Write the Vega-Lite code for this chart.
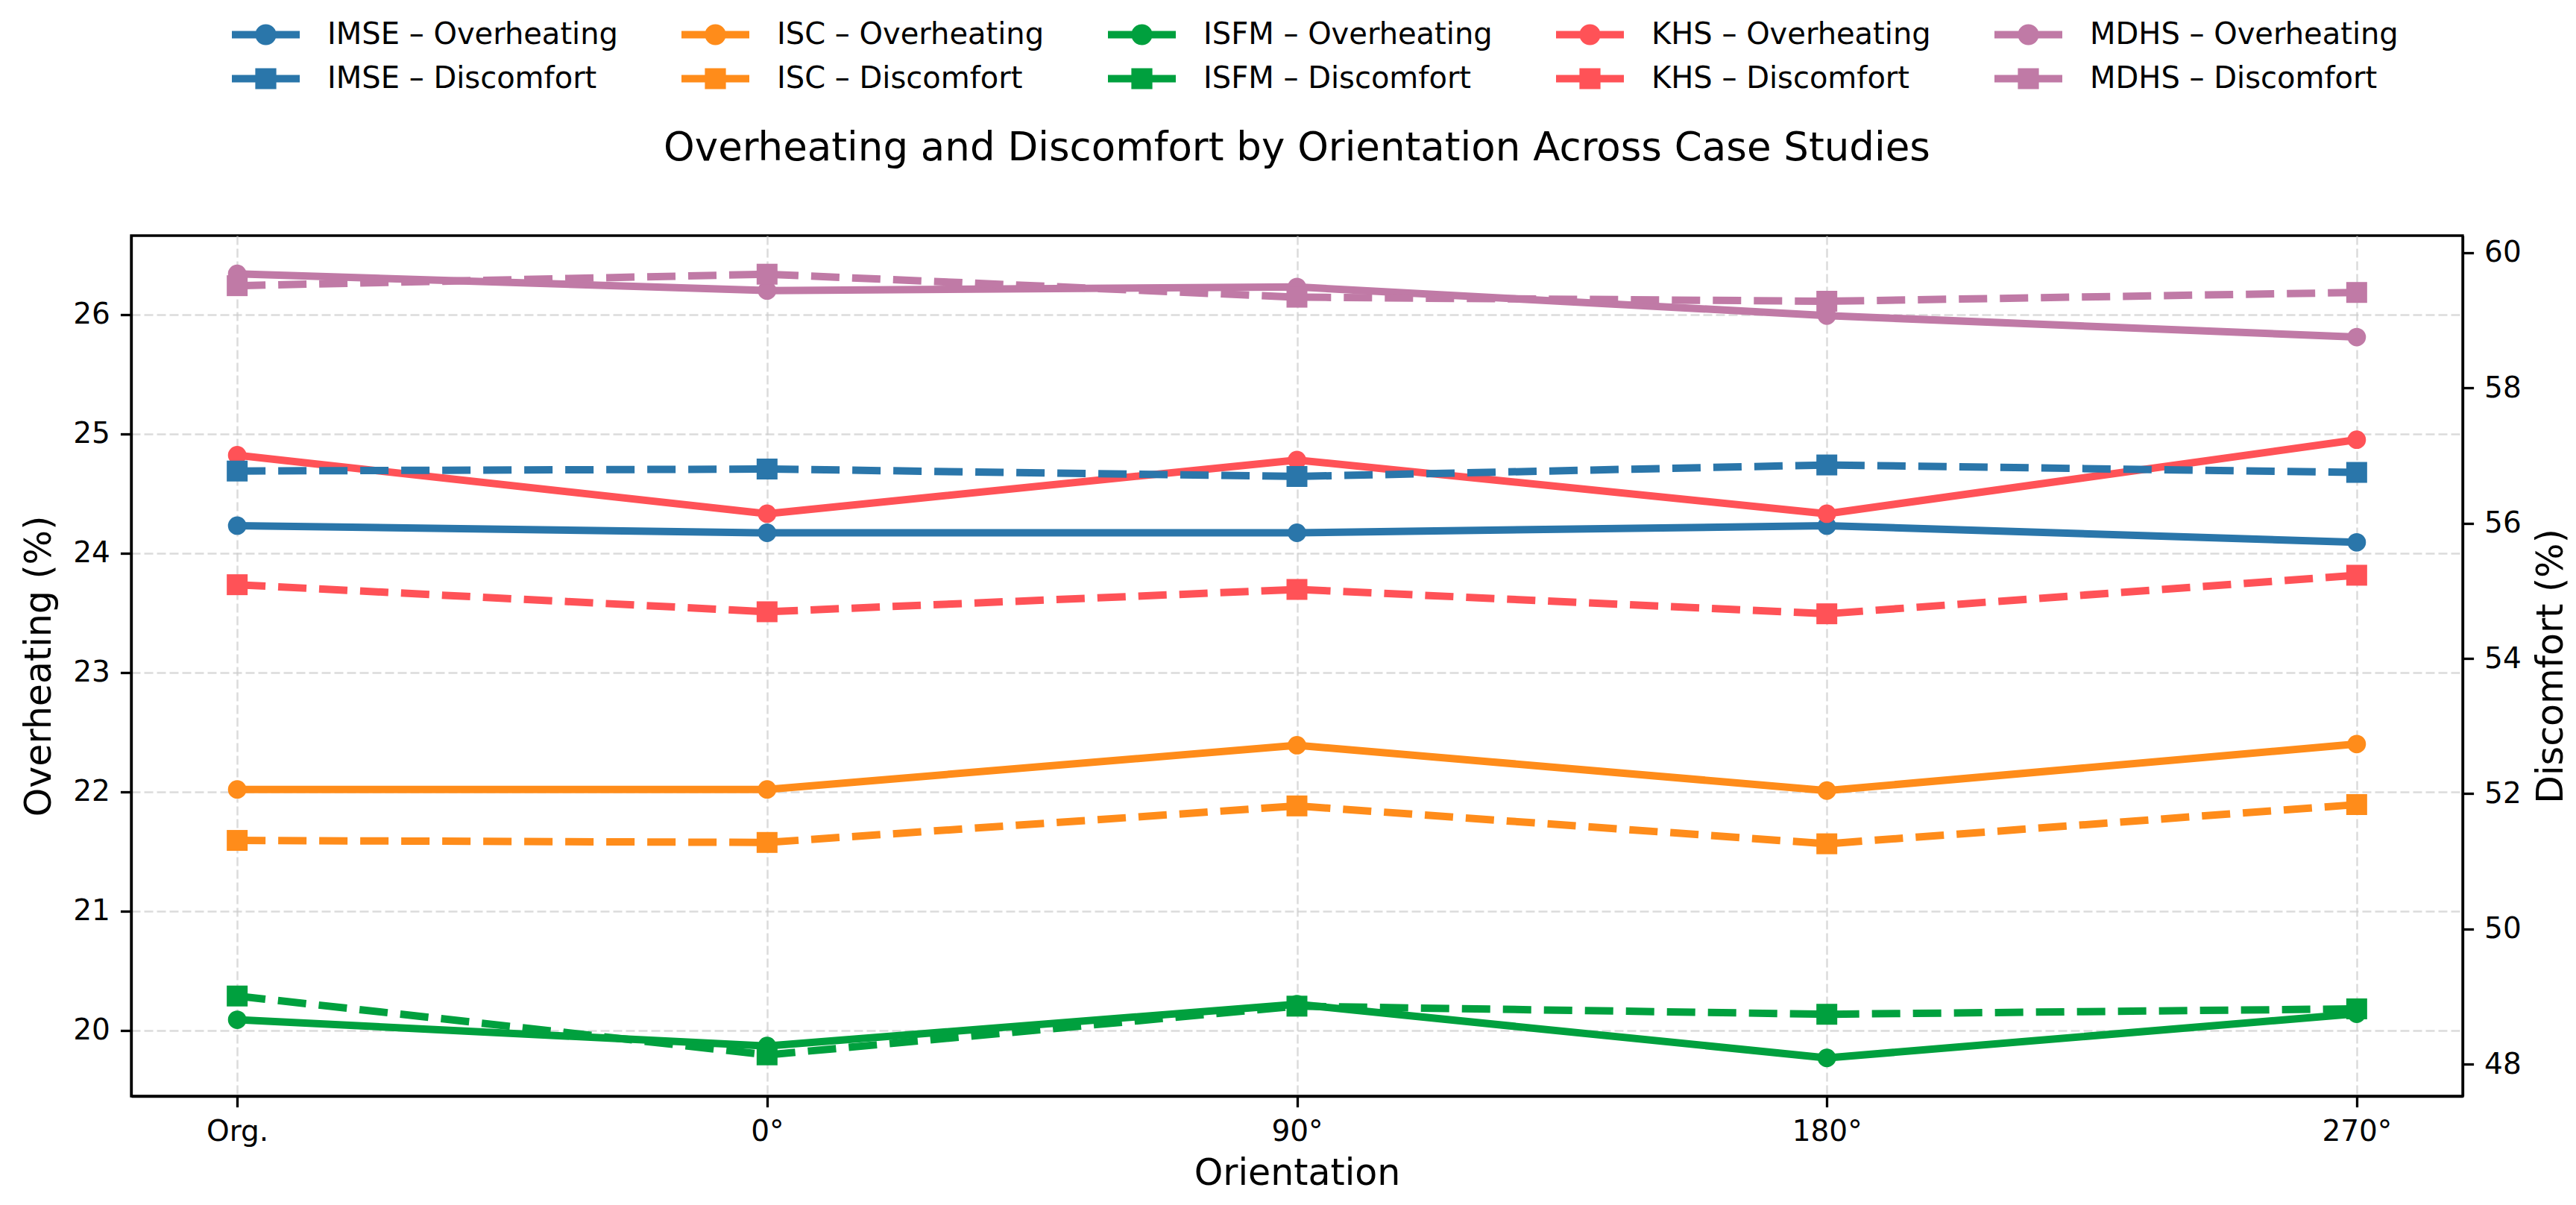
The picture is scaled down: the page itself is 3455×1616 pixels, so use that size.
{
  "$schema": "https://vega.github.io/schema/vega-lite/v6.json",
  "width": 3127,
  "height": 1154,
  "padding": {"left": 28, "top": 24, "right": 18, "bottom": 10},
  "title": {
    "text": "Overheating and Discomfort by Orientation Across Case Studies",
    "fontSize": 53,
    "fontWeight": "normal",
    "font": "DejaVu Sans",
    "color": "black",
    "anchor": "middle",
    "frame": "group",
    "offset": -202
  },
  "data": {
    "values": [
      {"orientation": "Org.", "site": "IMSE", "metric": "Overheating", "series": "IMSE – Overheating", "value": 24.23},
      {"orientation": "0°", "site": "IMSE", "metric": "Overheating", "series": "IMSE – Overheating", "value": 24.17},
      {"orientation": "90°", "site": "IMSE", "metric": "Overheating", "series": "IMSE – Overheating", "value": 24.17},
      {"orientation": "180°", "site": "IMSE", "metric": "Overheating", "series": "IMSE – Overheating", "value": 24.23},
      {"orientation": "270°", "site": "IMSE", "metric": "Overheating", "series": "IMSE – Overheating", "value": 24.09},
      {"orientation": "Org.", "site": "ISC", "metric": "Overheating", "series": "ISC – Overheating", "value": 22.02},
      {"orientation": "0°", "site": "ISC", "metric": "Overheating", "series": "ISC – Overheating", "value": 22.02},
      {"orientation": "90°", "site": "ISC", "metric": "Overheating", "series": "ISC – Overheating", "value": 22.39},
      {"orientation": "180°", "site": "ISC", "metric": "Overheating", "series": "ISC – Overheating", "value": 22.01},
      {"orientation": "270°", "site": "ISC", "metric": "Overheating", "series": "ISC – Overheating", "value": 22.40},
      {"orientation": "Org.", "site": "ISFM", "metric": "Overheating", "series": "ISFM – Overheating", "value": 20.09},
      {"orientation": "0°", "site": "ISFM", "metric": "Overheating", "series": "ISFM – Overheating", "value": 19.87},
      {"orientation": "90°", "site": "ISFM", "metric": "Overheating", "series": "ISFM – Overheating", "value": 20.22},
      {"orientation": "180°", "site": "ISFM", "metric": "Overheating", "series": "ISFM – Overheating", "value": 19.77},
      {"orientation": "270°", "site": "ISFM", "metric": "Overheating", "series": "ISFM – Overheating", "value": 20.14},
      {"orientation": "Org.", "site": "KHS", "metric": "Overheating", "series": "KHS – Overheating", "value": 24.82},
      {"orientation": "0°", "site": "KHS", "metric": "Overheating", "series": "KHS – Overheating", "value": 24.33},
      {"orientation": "90°", "site": "KHS", "metric": "Overheating", "series": "KHS – Overheating", "value": 24.78},
      {"orientation": "180°", "site": "KHS", "metric": "Overheating", "series": "KHS – Overheating", "value": 24.33},
      {"orientation": "270°", "site": "KHS", "metric": "Overheating", "series": "KHS – Overheating", "value": 24.95},
      {"orientation": "Org.", "site": "MDHS", "metric": "Overheating", "series": "MDHS – Overheating", "value": 26.34},
      {"orientation": "0°", "site": "MDHS", "metric": "Overheating", "series": "MDHS – Overheating", "value": 26.20},
      {"orientation": "90°", "site": "MDHS", "metric": "Overheating", "series": "MDHS – Overheating", "value": 26.23},
      {"orientation": "180°", "site": "MDHS", "metric": "Overheating", "series": "MDHS – Overheating", "value": 25.99},
      {"orientation": "270°", "site": "MDHS", "metric": "Overheating", "series": "MDHS – Overheating", "value": 25.81},
      {"orientation": "Org.", "site": "IMSE", "metric": "Discomfort", "series": "IMSE – Discomfort", "value": 56.77},
      {"orientation": "0°", "site": "IMSE", "metric": "Discomfort", "series": "IMSE – Discomfort", "value": 56.80},
      {"orientation": "90°", "site": "IMSE", "metric": "Discomfort", "series": "IMSE – Discomfort", "value": 56.69},
      {"orientation": "180°", "site": "IMSE", "metric": "Discomfort", "series": "IMSE – Discomfort", "value": 56.86},
      {"orientation": "270°", "site": "IMSE", "metric": "Discomfort", "series": "IMSE – Discomfort", "value": 56.75},
      {"orientation": "Org.", "site": "ISC", "metric": "Discomfort", "series": "ISC – Discomfort", "value": 51.31},
      {"orientation": "0°", "site": "ISC", "metric": "Discomfort", "series": "ISC – Discomfort", "value": 51.28},
      {"orientation": "90°", "site": "ISC", "metric": "Discomfort", "series": "ISC – Discomfort", "value": 51.82},
      {"orientation": "180°", "site": "ISC", "metric": "Discomfort", "series": "ISC – Discomfort", "value": 51.26},
      {"orientation": "270°", "site": "ISC", "metric": "Discomfort", "series": "ISC – Discomfort", "value": 51.84},
      {"orientation": "Org.", "site": "ISFM", "metric": "Discomfort", "series": "ISFM – Discomfort", "value": 49.01},
      {"orientation": "0°", "site": "ISFM", "metric": "Discomfort", "series": "ISFM – Discomfort", "value": 48.14},
      {"orientation": "90°", "site": "ISFM", "metric": "Discomfort", "series": "ISFM – Discomfort", "value": 48.86},
      {"orientation": "180°", "site": "ISFM", "metric": "Discomfort", "series": "ISFM – Discomfort", "value": 48.74},
      {"orientation": "270°", "site": "ISFM", "metric": "Discomfort", "series": "ISFM – Discomfort", "value": 48.82},
      {"orientation": "Org.", "site": "KHS", "metric": "Discomfort", "series": "KHS – Discomfort", "value": 55.09},
      {"orientation": "0°", "site": "KHS", "metric": "Discomfort", "series": "KHS – Discomfort", "value": 54.69},
      {"orientation": "90°", "site": "KHS", "metric": "Discomfort", "series": "KHS – Discomfort", "value": 55.02},
      {"orientation": "180°", "site": "KHS", "metric": "Discomfort", "series": "KHS – Discomfort", "value": 54.66},
      {"orientation": "270°", "site": "KHS", "metric": "Discomfort", "series": "KHS – Discomfort", "value": 55.23},
      {"orientation": "Org.", "site": "MDHS", "metric": "Discomfort", "series": "MDHS – Discomfort", "value": 59.51},
      {"orientation": "0°", "site": "MDHS", "metric": "Discomfort", "series": "MDHS – Discomfort", "value": 59.68},
      {"orientation": "90°", "site": "MDHS", "metric": "Discomfort", "series": "MDHS – Discomfort", "value": 59.34},
      {"orientation": "180°", "site": "MDHS", "metric": "Discomfort", "series": "MDHS – Discomfort", "value": 59.28},
      {"orientation": "270°", "site": "MDHS", "metric": "Discomfort", "series": "MDHS – Discomfort", "value": 59.41}
    ]
  },
  "encoding": {
    "x": {
      "field": "orientation",
      "type": "ordinal",
      "sort": ["Org.", "0°", "90°", "180°", "270°"],
      "scale": {"type": "point", "padding": 0.2},
      "axis": {"title": "Orientation", "labelAngle": 0, "grid": true, "titlePadding": 12}
    }
  },
  "layer": [
    {
      "transform": [{"filter": "datum.metric === 'Overheating'"}],
      "encoding": {
        "y": {
          "field": "value",
          "type": "quantitative",
          "scale": {"domain": [19.45, 26.66], "nice": false, "zero": false},
          "axis": {"title": "Overheating (%)", "values": [20, 21, 22, 23, 24, 25, 26], "grid": true, "titlePadding": 20}
        },
        "color": {
          "field": "series",
          "type": "nominal",
          "scale": {
            "domain": ["IMSE – Discomfort", "ISC – Discomfort", "ISFM – Discomfort", "KHS – Discomfort", "MDHS – Discomfort", "IMSE – Overheating", "ISC – Overheating", "ISFM – Overheating", "KHS – Overheating", "MDHS – Overheating"],
            "range": ["#2a76aa", "#ff8c1a", "#00a03e", "#ff5257", "#c07aa6", "#2a76aa", "#ff8c1a", "#00a03e", "#ff5257", "#c07aa6"]
          },
          "legend": null
        }
      },
      "layer": [
        {"mark": {"type": "line", "strokeWidth": 10, "strokeJoin": "round"}},
        {"mark": {"type": "point", "shape": "circle", "filled": true, "size": 616, "opacity": 1}}
      ]
    },
    {
      "transform": [{"filter": "datum.metric === 'Discomfort'"}],
      "encoding": {
        "y": {
          "field": "value",
          "type": "quantitative",
          "scale": {"domain": [47.53, 60.25], "nice": false, "zero": false},
          "axis": {"title": "Discomfort (%)", "orient": "right", "values": [48, 50, 52, 54, 56, 58, 60], "grid": false, "titleAngle": 270, "titleBaseline": "top", "titlePadding": 16}
        },
        "color": {"field": "series", "type": "nominal", "legend": null}
      },
      "layer": [
        {"mark": {"type": "line", "strokeWidth": 10, "strokeDash": [38, 17], "strokeJoin": "round"}},
        {"mark": {"type": "point", "shape": "square", "filled": true, "size": 784, "opacity": 1}}
      ]
    },
    {
      "mark": {"type": "point", "filled": true, "opacity": 0},
      "encoding": {
        "fill": {
          "field": "series",
          "type": "nominal",
          "scale": {
            "domain": ["IMSE – Overheating", "ISC – Overheating", "ISFM – Overheating", "KHS – Overheating", "MDHS – Overheating", "IMSE – Discomfort", "ISC – Discomfort", "ISFM – Discomfort", "KHS – Discomfort", "MDHS – Discomfort"],
            "range": ["#2a76aa", "#ff8c1a", "#00a03e", "#ff5257", "#c07aa6", "#2a76aa", "#ff8c1a", "#00a03e", "#ff5257", "#c07aa6"]
          },
          "legend": {"title": null, "orient": "none", "legendX": 130, "legendY": -292, "columns": 5, "direction": "horizontal", "symbolOpacity": 1}
        },
        "stroke": {
          "field": "series",
          "type": "nominal",
          "scale": {
            "domain": ["IMSE – Overheating", "ISC – Overheating", "ISFM – Overheating", "KHS – Overheating", "MDHS – Overheating", "IMSE – Discomfort", "ISC – Discomfort", "ISFM – Discomfort", "KHS – Discomfort", "MDHS – Discomfort"],
            "range": ["#2a76aa", "#ff8c1a", "#00a03e", "#ff5257", "#c07aa6", "#2a76aa", "#ff8c1a", "#00a03e", "#ff5257", "#c07aa6"]
          },
          "legend": {"title": null, "orient": "none", "legendX": 130, "legendY": -292, "columns": 5, "direction": "horizontal", "symbolOpacity": 1}
        },
        "shape": {
          "field": "series",
          "type": "nominal",
          "scale": {
            "domain": ["IMSE – Overheating", "ISC – Overheating", "ISFM – Overheating", "KHS – Overheating", "MDHS – Overheating", "IMSE – Discomfort", "ISC – Discomfort", "ISFM – Discomfort", "KHS – Discomfort", "MDHS – Discomfort"],
            "range": [
              "M-1,0H1M0.2,0A0.2,0.2,0,1,1,-0.2,0A0.2,0.2,0,1,1,0.2,0Z",
              "M-1,0H1M0.2,0A0.2,0.2,0,1,1,-0.2,0A0.2,0.2,0,1,1,0.2,0Z",
              "M-1,0H1M0.2,0A0.2,0.2,0,1,1,-0.2,0A0.2,0.2,0,1,1,0.2,0Z",
              "M-1,0H1M0.2,0A0.2,0.2,0,1,1,-0.2,0A0.2,0.2,0,1,1,0.2,0Z",
              "M-1,0H1M0.2,0A0.2,0.2,0,1,1,-0.2,0A0.2,0.2,0,1,1,0.2,0Z",
              "M-1,0H1M-0.2,-0.2H0.2V0.2H-0.2Z",
              "M-1,0H1M-0.2,-0.2H0.2V0.2H-0.2Z",
              "M-1,0H1M-0.2,-0.2H0.2V0.2H-0.2Z",
              "M-1,0H1M-0.2,-0.2H0.2V0.2H-0.2Z",
              "M-1,0H1M-0.2,-0.2H0.2V0.2H-0.2Z"
            ]
          },
          "legend": {"title": null, "orient": "none", "legendX": 130, "legendY": -292, "columns": 5, "direction": "horizontal", "symbolOpacity": 1}
        }
      }
    }
  ],
  "resolve": {"scale": {"y": "independent"}},
  "config": {
    "font": "DejaVu Sans",
    "view": {"stroke": "black", "strokeWidth": 3.3},
    "legend": {
      "symbolSize": 8281,
      "symbolStrokeWidth": 10,
      "labelFontSize": 40,
      "labelFont": "DejaVu Sans",
      "labelColor": "black",
      "labelOffset": 32,
      "labelLimit": 1000,
      "columnPadding": 80,
      "rowPadding": 14,
      "clipHeight": 45
    },
    "axis": {
      "domainColor": "black",
      "domainWidth": 3.3,
      "tickColor": "black",
      "tickWidth": 3.3,
      "tickSize": 14.6,
      "labelPadding": 14,
      "labelFontSize": 39,
      "labelFont": "DejaVu Sans",
      "labelColor": "black",
      "titleFontSize": 49,
      "titleFont": "DejaVu Sans",
      "titleFontWeight": "normal",
      "titleColor": "black",
      "gridColor": "#cccccc",
      "gridOpacity": 0.7,
      "gridDash": [12, 5],
      "gridWidth": 2.5
    }
  }
}
